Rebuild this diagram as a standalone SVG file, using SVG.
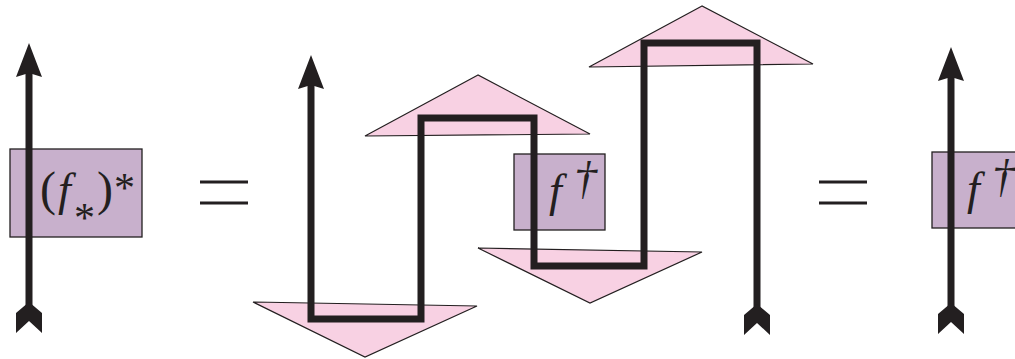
<svg xmlns="http://www.w3.org/2000/svg" width="1015" height="359" viewBox="0 0 1015 359">
<style>
.tri{fill:#f8d1e3;stroke:#231f20;stroke-width:1.2}
.box{fill:#c8b0cc;stroke:#231f20;stroke-width:1.3}
.wire{fill:none;stroke:#231f20;stroke-width:7;stroke-linejoin:miter}
.head{fill:#231f20}
.m{font-family:"Liberation Serif",serif;font-style:italic;fill:#231f20}
.r{font-family:"Liberation Serif",serif;fill:#231f20}
.eq{stroke:#231f20;stroke-width:3}
</style>
<defs>
<path id="up" d="M0,0 L-13,34 L0,30 L13,34 Z"/>
<path id="tail" d="M0,0 L-13,11 L-13,31 L0,19 L13,31 L13,11 Z"/>
</defs>
<g id="lhs">
<rect class="box" x="10" y="149" width="132" height="88"/>
<line class="wire" x1="29" y1="70" x2="29" y2="318"/>
<use href="#up" class="head" x="29" y="43"/>
<use href="#tail" class="head" x="29" y="302"/>
<text class="r" font-size="48"><tspan x="40" y="205">(</tspan><tspan class="m" x="58" y="205" font-size="46">f</tspan><tspan x="74" y="232" font-size="42">*</tspan><tspan x="97" y="205">)</tspan><tspan x="114" y="202" font-size="42">*</tspan></text>
</g>
<g id="eq1">
<line class="eq" x1="200" y1="182" x2="248" y2="182"/>
<line class="eq" x1="200" y1="203" x2="248" y2="203"/>
</g>
<g id="cups">
<polygon class="tri" points="253,302 477,306 365,357"/>
<polygon class="tri" points="478,75 365,136 590,134"/>
<polygon class="tri" points="478,248 702,252 590,303"/>
<polygon class="tri" points="702,6 589,67 813,64"/>
</g>
<g id="fdag-mid">
<rect class="box" x="514" y="154" width="91" height="76"/>
</g>
<g id="connectors">
<path class="wire" d="M311,80 L311,319 L421,319 L421,118 L534,118 L534,266 L644,266 L644,43 L757,43 L757,318"/>
<use href="#up" class="head" x="311" y="55"/>
<use href="#tail" class="head" x="757" y="304"/>
</g>
<g id="fdag-mid-label">
<text class="m" font-size="46"><tspan x="549" y="206">f</tspan><tspan class="r" x="574" y="194">†</tspan></text>
</g>
<g id="eq2">
<line class="eq" x1="819" y1="182" x2="867" y2="182"/>
<line class="eq" x1="819" y1="203" x2="867" y2="203"/>
</g>
<g id="rhs">
<rect class="box" x="932" y="152" width="90" height="76"/>
<line class="wire" x1="951" y1="70" x2="951" y2="318"/>
<use href="#up" class="head" x="951" y="47"/>
<use href="#tail" class="head" x="951" y="303"/>
<text class="m" font-size="46"><tspan x="967" y="204">f</tspan><tspan class="r" x="992" y="192">†</tspan></text>
</g>
</svg>
